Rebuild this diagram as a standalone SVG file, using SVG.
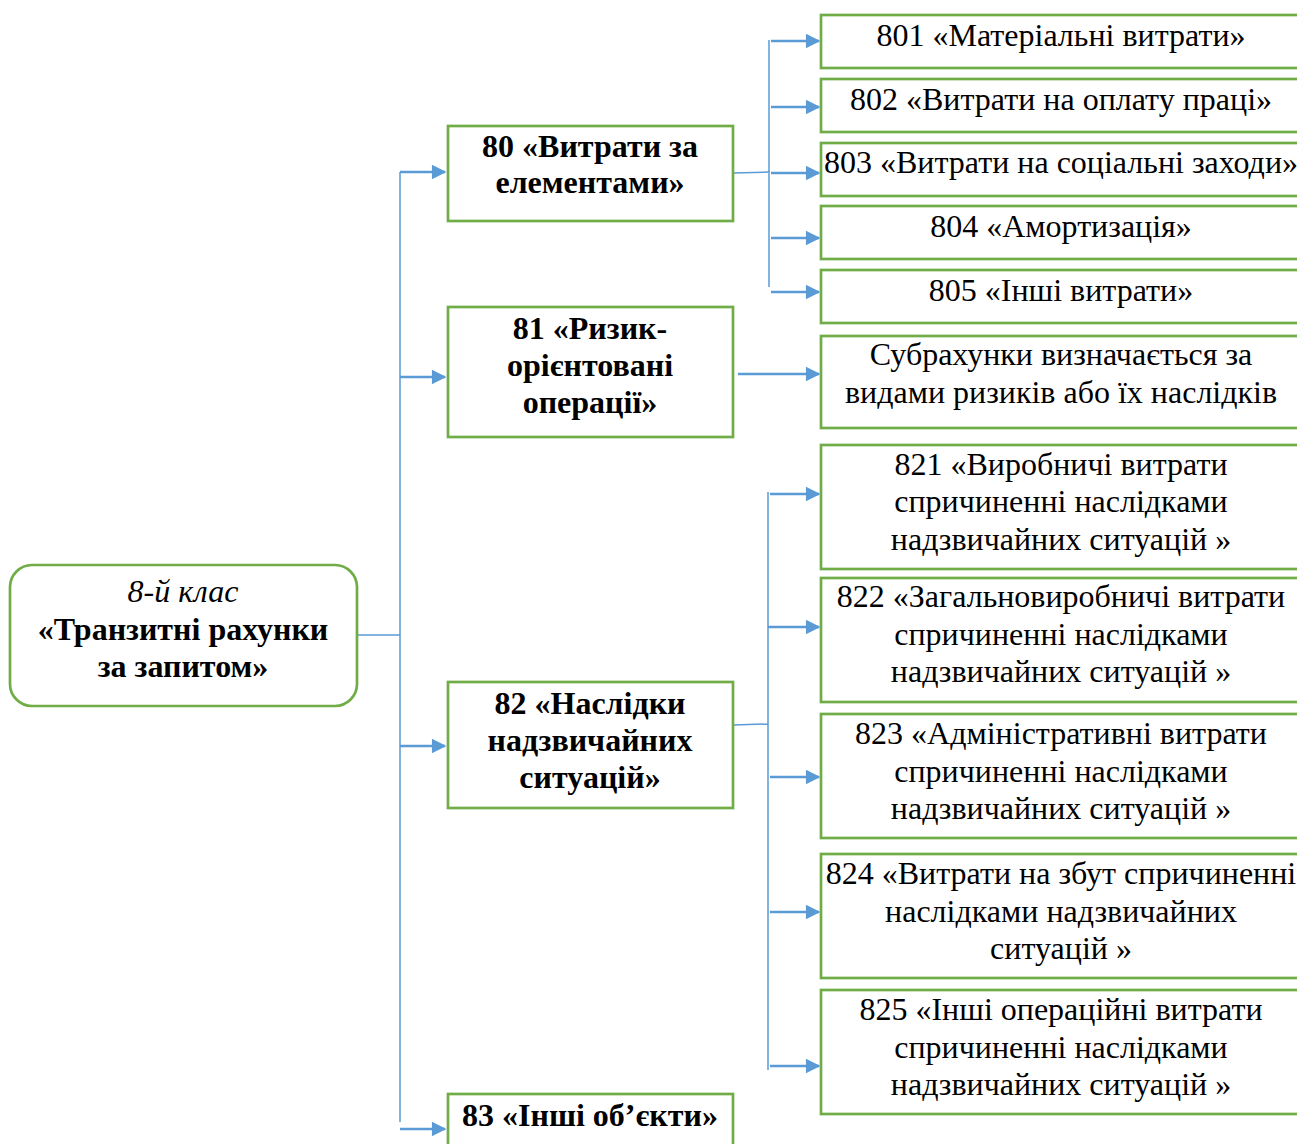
<svg xmlns="http://www.w3.org/2000/svg" width="1297" height="1144" viewBox="0 0 1297 1144">
<defs>
<style>
.box{fill:#fff;stroke:#70AD47;stroke-width:2.7}
.t{font-family:"Liberation Serif","Times New Roman",serif;font-size:32px;fill:#000;text-anchor:middle}
.b{font-weight:bold}
.i{font-style:italic}
.ln{fill:none;stroke:#5B9BD5;stroke-width:1.5}
.ar{fill:none;stroke:#5B9BD5;stroke-width:2.5;marker-end:url(#ah)}
</style>
<marker id="ah" viewBox="0 0 10 10" refX="9" refY="5" markerWidth="6.2" markerHeight="5.8" markerUnits="strokeWidth" orient="auto">
<path d="M0,0 L10,5 L0,10 z" fill="#5B9BD5"/>
</marker>
</defs>
<rect width="1297" height="1144" fill="#fff"/>
<g id="connectors">
<path class="ln" d="M357,635 H400 M400,172 V1122"/>
<path class="ar" d="M400,172 H445"/>
<path class="ar" d="M400,377 H445"/>
<path class="ar" d="M400,746 H445"/>
<path class="ar" d="M400,1129 H445"/>
<path class="ln" d="M733,173 L770,172 M769,40 V287"/>
<path class="ar" d="M771,41 H819"/>
<path class="ar" d="M771,107 H819"/>
<path class="ar" d="M771,173 H819"/>
<path class="ar" d="M771,238 H819"/>
<path class="ar" d="M771,292 H819"/>
<path class="ar" d="M738,374 H819"/>
<path class="ln" d="M733,725 L768,724 M768,492 V1070"/>
<path class="ar" d="M770,494 H819"/>
<path class="ar" d="M768,627 H819"/>
<path class="ar" d="M770,777 H819"/>
<path class="ar" d="M770,912 H819"/>
<path class="ar" d="M770,1066 H819"/>
</g>
<g id="root">
<rect class="box" x="10" y="565" width="347" height="141" rx="22"/>
<text class="t i" x="183" y="602">8-й клас</text>
<text class="t b" x="183" y="640">«Транзитні рахунки</text>
<text class="t b" x="183" y="677">за запитом»</text>
</g>
<g id="n80">
<rect class="box" x="448" y="126" width="285" height="95"/>
<text class="t b" x="590" y="157">80 «Витрати за</text>
<text class="t b" x="590" y="193">елементами»</text>
</g>
<g id="n81">
<rect class="box" x="448" y="307" width="285" height="130"/>
<text class="t b" x="590" y="339">81 «Ризик-</text>
<text class="t b" x="590" y="376">орієнтовані</text>
<text class="t b" x="590" y="413">операції»</text>
</g>
<g id="n82">
<rect class="box" x="448" y="682" width="285" height="126"/>
<text class="t b" x="590" y="714">82 «Наслідки</text>
<text class="t b" x="590" y="751">надзвичайних</text>
<text class="t b" x="590" y="788">ситуацій»</text>
</g>
<g id="n83">
<rect class="box" x="448" y="1094" width="285" height="80"/>
<text class="t b" x="590" y="1126">83 «Інші об’єкти»</text>
</g>
<g id="n801">
<rect class="box" x="821" y="15" width="490" height="53"/>
<text class="t" x="1061" y="46">801 «Матеріальні витрати»</text>
</g>
<g id="n802">
<rect class="box" x="821" y="79" width="490" height="53"/>
<text class="t" x="1061" y="110">802 «Витрати на оплату праці»</text>
</g>
<g id="n803">
<rect class="box" x="821" y="143" width="490" height="53"/>
<text class="t" x="1061" y="173">803 «Витрати на соціальні заходи»</text>
</g>
<g id="n804">
<rect class="box" x="821" y="206" width="490" height="53"/>
<text class="t" x="1061" y="237">804 «Амортизація»</text>
</g>
<g id="n805">
<rect class="box" x="821" y="270" width="490" height="53"/>
<text class="t" x="1061" y="301">805 «Інші витрати»</text>
</g>
<g id="nsub">
<rect class="box" x="821" y="336" width="490" height="92"/>
<text class="t" x="1061" y="365">Субрахунки визначається за</text>
<text class="t" x="1061" y="403">видами ризиків або їх наслідків</text>
</g>
<g id="n821">
<rect class="box" x="821" y="445" width="490" height="124"/>
<text class="t" x="1061" y="475">821 «Виробничі витрати</text>
<text class="t" x="1061" y="512">спричиненні наслідками</text>
<text class="t" x="1061" y="550">надзвичайних ситуацій »</text>
</g>
<g id="n822">
<rect class="box" x="821" y="578" width="490" height="124"/>
<text class="t" x="1061" y="607">822 «Загальновиробничі витрати</text>
<text class="t" x="1061" y="645">спричиненні наслідками</text>
<text class="t" x="1061" y="682">надзвичайних ситуацій »</text>
</g>
<g id="n823">
<rect class="box" x="821" y="714" width="490" height="124"/>
<text class="t" x="1061" y="744">823 «Адміністративні витрати</text>
<text class="t" x="1061" y="782">спричиненні наслідками</text>
<text class="t" x="1061" y="819">надзвичайних ситуацій »</text>
</g>
<g id="n824">
<rect class="box" x="821" y="854" width="490" height="124"/>
<text class="t" x="1061" y="884">824 «Витрати на збут спричиненні</text>
<text class="t" x="1061" y="922">наслідками надзвичайних</text>
<text class="t" x="1061" y="959">ситуацій »</text>
</g>
<g id="n825">
<rect class="box" x="821" y="990" width="490" height="124"/>
<text class="t" x="1061" y="1020">825 «Інші операційні витрати</text>
<text class="t" x="1061" y="1058">спричиненні наслідками</text>
<text class="t" x="1061" y="1095">надзвичайних ситуацій »</text>
</g>
</svg>
